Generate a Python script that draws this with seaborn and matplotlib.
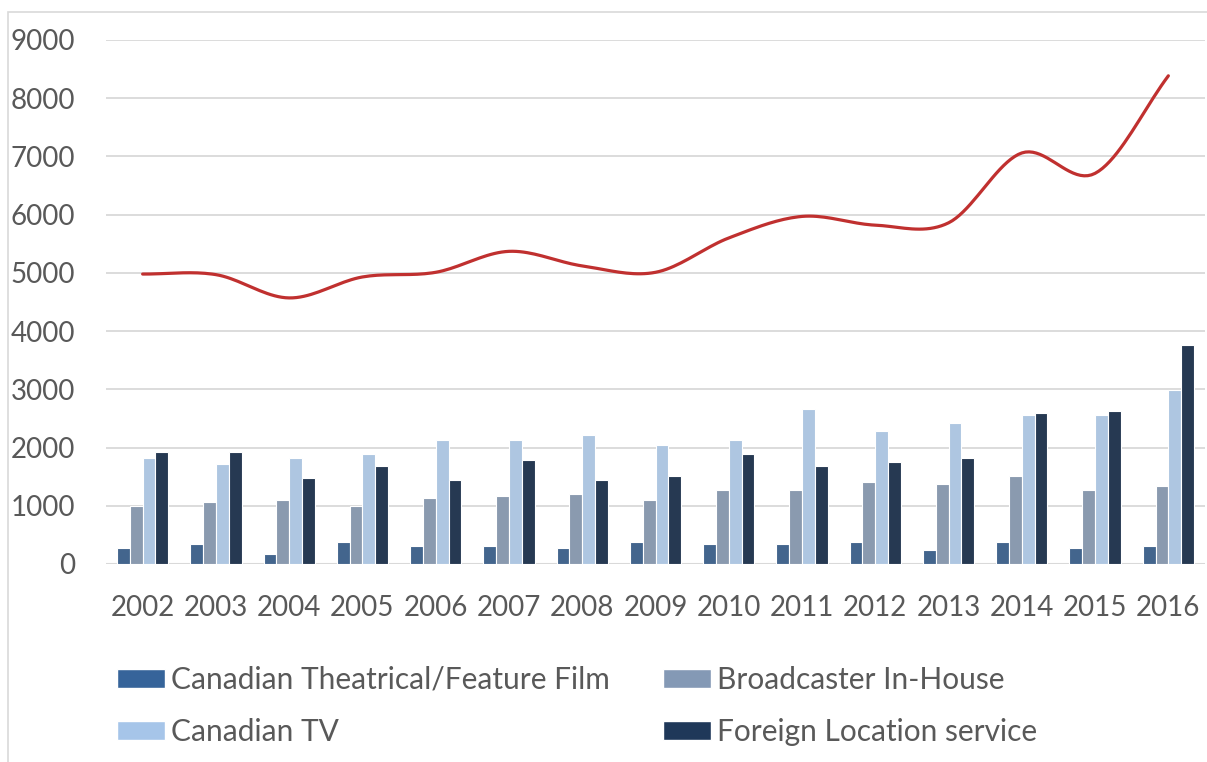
import numpy as np
import pandas as pd
import matplotlib
matplotlib.use("Agg")
import matplotlib.pyplot as plt
import seaborn as sns
from matplotlib.patches import Rectangle, Patch

years = [str(y) for y in range(2002, 2017)]
theatrical = [280, 350, 180, 385, 315, 315, 280, 385, 350, 350, 385, 245, 385, 280, 315]
broadcaster = [1000, 1065, 1100, 1000, 1135, 1170, 1200, 1100, 1270, 1270, 1410, 1375, 1510, 1270, 1340]
canadian_tv = [1815, 1710, 1815, 1885, 2125, 2125, 2220, 2050, 2125, 2670, 2290, 2430, 2565, 2565, 2980]
foreign = [1920, 1920, 1480, 1680, 1440, 1780, 1440, 1510, 1885, 1680, 1745, 1815, 2600, 2635, 3765]
total = [4980, 4970, 4570, 4930, 5010, 5370, 5120, 5010, 5600, 5970, 5820, 5860, 7060, 6710, 8385]

series = ["Canadian Theatrical/Feature Film", "Broadcaster In-House",
          "Canadian TV", "Foreign Location service"]
colors = ["#36649A", "#8499B5", "#A6C5E9", "#1F3859"]

df = pd.DataFrame({
    "year": years * 4,
    "series": np.repeat(series, len(years)),
    "value": theatrical + broadcaster + canadian_tv + foreign,
})

sns.set_theme(style="white")
plt.rcParams["font.family"] = ["Lato", "DejaVu Sans"]

fig = plt.figure(figsize=(12.07, 7.62), dpi=100)
ax = fig.add_axes([106 / 1207, 1 - 564 / 762, 1099 / 1207, 524 / 762])

sns.barplot(data=df, x="year", y="value", hue="series", palette=colors,
            width=0.7, edgecolor="white", linewidth=0.8, ax=ax,
            legend=False, zorder=3)

# smooth line like Excel (Catmull-Rom through the points)
def catmull_rom(xs, ys, n=20):
    px = np.concatenate([[2 * xs[0] - xs[1]], xs, [2 * xs[-1] - xs[-2]]])
    py = np.concatenate([[2 * ys[0] - ys[1]], ys, [2 * ys[-1] - ys[-2]]])
    outx, outy = [], []
    t = np.linspace(0, 1, n, endpoint=False)
    for i in range(1, len(px) - 2):
        for p, out in ((px, outx), (py, outy)):
            p0, p1, p2, p3 = p[i - 1], p[i], p[i + 1], p[i + 2]
            out.extend(0.5 * (2 * p1 + (-p0 + p2) * t
                              + (2 * p0 - 5 * p1 + 4 * p2 - p3) * t ** 2
                              + (-p0 + 3 * p1 - 3 * p2 + p3) * t ** 3))
    outx.append(xs[-1])
    outy.append(ys[-1])
    return np.array(outx), np.array(outy)

sx, sy = catmull_rom(np.arange(len(years), dtype=float), np.array(total, dtype=float))
ax.plot(sx, sy, color="#C0302F", linewidth=2.3, zorder=4, solid_capstyle="round")

ax.set_ylim(0, 9000)
ax.set_xlim(-0.5, len(years) - 0.5)
ax.set_yticks(range(0, 9001, 1000))
ax.yaxis.grid(True, color="#D9D9D9", linewidth=1.3, zorder=0)
ax.set_axisbelow(True)
for s in ax.spines.values():
    s.set_visible(False)
ax.axhline(0, color="#D9D9D9", linewidth=1.5, zorder=2)
ax.tick_params(axis="y", length=0, pad=22, labelsize=20, labelcolor="#595959")
ax.tick_params(axis="x", length=0, pad=22, labelsize=20, labelcolor="#595959")
ax.set_xlabel("")
ax.set_ylabel("")

handles = [Patch(facecolor=c) for c in colors]
order = [0, 2, 1, 3]
fig.legend([handles[i] for i in order], [series[i] for i in order],
           loc="upper left", bbox_to_anchor=(117 / 1207, 1 - 666 / 762),
           ncol=2, frameon=False, fontsize=21.5, labelcolor="#595959",
           handlelength=1.6, handleheight=0.57, handletextpad=0.2,
           columnspacing=1.8, labelspacing=0.8, borderpad=0, borderaxespad=0)

fig.patches.append(Rectangle((8 / 1207, -0.05), 1.2, 1 - 12 / 762 + 0.05,
                             transform=fig.transFigure, fill=False,
                             edgecolor="#D9D9D9", linewidth=1.2))

fig.savefig("out.png", dpi=100)
